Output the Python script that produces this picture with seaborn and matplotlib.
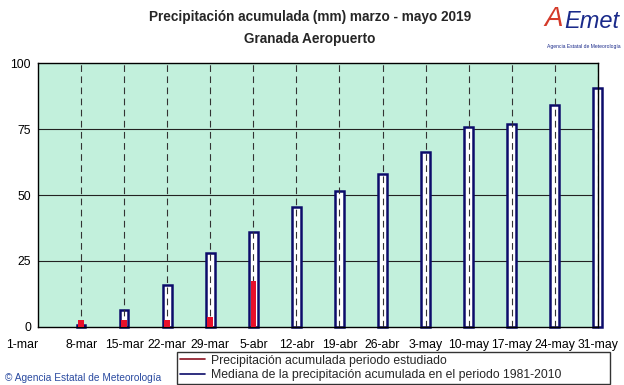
import matplotlib
matplotlib.use("Agg")
import matplotlib.pyplot as plt
import seaborn as sns
import pandas as pd
import numpy as np
from matplotlib.lines import Line2D

fechas = ["1-mar", "8-mar", "15-mar", "22-mar", "29-mar", "5-abr", "12-abr",
          "19-abr", "26-abr", "3-may", "10-may", "17-may", "24-may", "31-may"]
mediana = [0.0, 0.6, 6.4, 15.9, 28.1, 36.1, 45.3, 51.5, 57.8, 66.4, 75.9, 77.0, 84.1, 90.4]
acumulada = [0.0, 2.6, 2.6, 2.6, 3.9, 17.4, np.nan, np.nan, np.nan, np.nan,
             np.nan, np.nan, np.nan, np.nan]

df = pd.DataFrame({"fecha": fechas, "mediana": mediana, "acumulada": acumulada})

sns.set_theme(style="white")
plt.rcParams["font.family"] = ["Liberation Sans", "DejaVu Sans"]

fig = plt.figure(figsize=(6.24, 3.85), dpi=100)
ax = fig.add_axes([0.061, 0.151, 0.897, 0.685])
ax.set_facecolor("#c2f0dc")

sns.barplot(data=df, x="fecha", y="mediana", order=fechas, ax=ax, width=0.2,
            color="white", edgecolor="#0c0c6a", linewidth=1.8, zorder=2)
sns.barplot(data=df, x="fecha", y="acumulada", order=fechas, ax=ax, width=0.13,
            color="#e8102a", saturation=1, linewidth=0, zorder=3)
for p in ax.patches:
    p.set_clip_on(False)
    if p.get_height() == 0:
        p.set_visible(False)

# dashed vertical lines at each date, drawn over the bars
for i in range(1, len(fechas)):
    ax.axvline(i, color="#333333", lw=0.8, ls=(0, (6, 4)), zorder=2.5)
for v in [25, 50, 75]:
    ax.axhline(v, color="#222222", lw=0.8, zorder=1)

ax.set_xlim(0, len(fechas) - 1)
ax.set_ylim(0, 100)
ax.set_yticks([0, 25, 50, 75, 100])
ax.set_xticks(range(len(fechas)))
ax.set_xticklabels(fechas)
ax.tick_params(axis="both", labelsize=8.8, length=0, colors="black")
ax.tick_params(axis="x", pad=9)
ax.tick_params(axis="y", pad=5)
first = ax.get_xticklabels()[0]
first.set_horizontalalignment("right")
ax.set_xlabel("")
ax.set_ylabel("")
for s in ax.spines.values():
    s.set_color("black")
    s.set_linewidth(1.0)

fig.text(0.497, 0.956, "Precipitación acumulada (mm) marzo - mayo 2019",
         ha="center", va="center", fontsize=9.8, fontweight="bold")
fig.text(0.497, 0.9, "Granada Aeropuerto",
         ha="center", va="center", fontsize=9.8, fontweight="bold")

# logo
fig.text(0.872, 0.95, "A", ha="left", va="center", fontsize=20, style="italic",
         color="#d43a2a")
fig.text(0.905, 0.945, "Emet", ha="left", va="center", fontsize=17, style="italic",
         color="#1a2a8a")
fig.text(0.935, 0.88, "Agencia Estatal de Meteorología", ha="center", va="center",
         fontsize=3.6, color="#1a2a8a")

fig.text(0.008, 0.018, "© Agencia Estatal de Meteorología", ha="left", va="center",
         fontsize=7.3, color="#2a4aa0")

handles = [Line2D([0], [0], color="#8a1020", lw=1.2),
           Line2D([0], [0], color="#0c0c6a", lw=1.2)]
labels = ["Precipitación acumulada periodo estudiado",
          "Mediana de la precipitación acumulada en el periodo 1981-2010"]
leg = fig.legend(handles, labels, loc="lower left",
                 bbox_to_anchor=(0.284, 0.002, 0.694, 0.094), mode="expand",
                 fontsize=8.8, frameon=True, fancybox=False, edgecolor="black",
                 handlelength=2.0, borderpad=0.25, labelspacing=0.2,
                 handletextpad=0.5, borderaxespad=0)
leg.get_frame().set_linewidth(1.0)

fig.savefig("out.png", dpi=100, facecolor="white")
